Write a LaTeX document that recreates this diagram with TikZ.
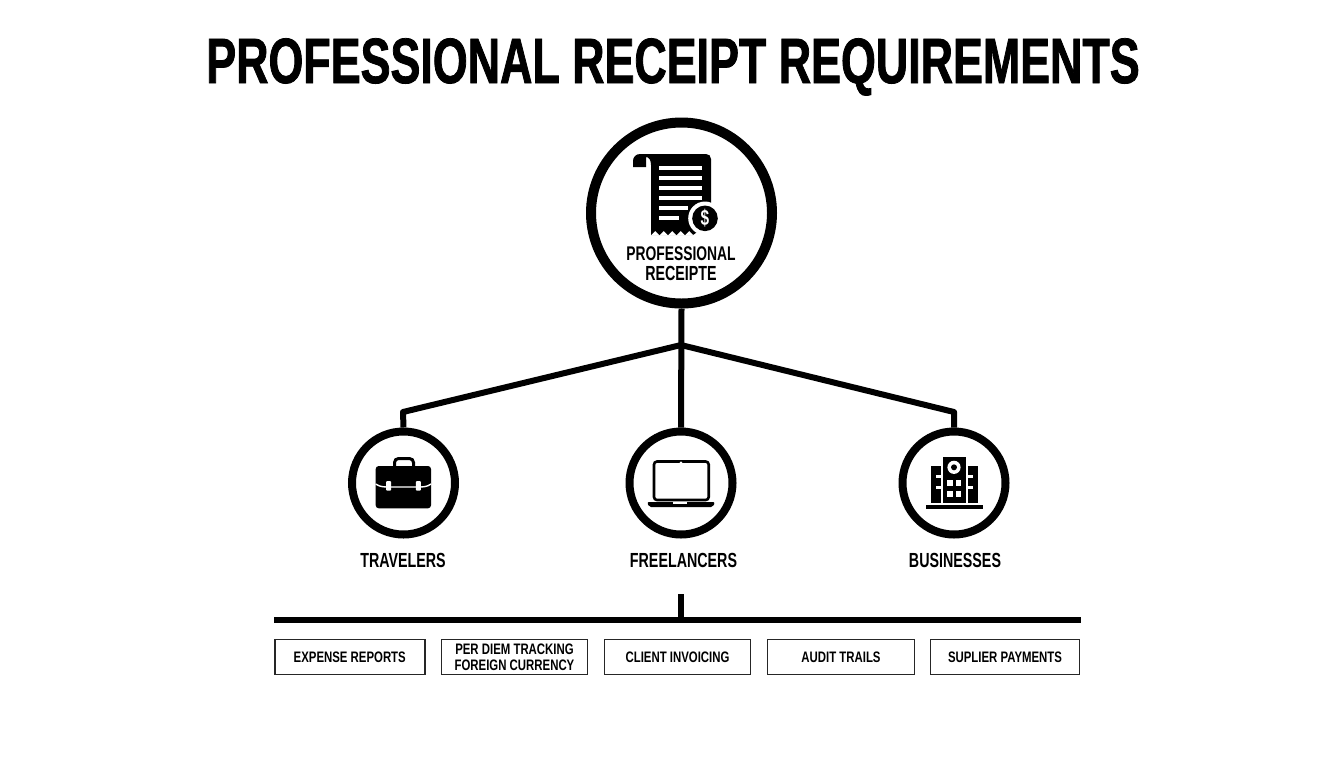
\documentclass[tikz,border=0pt]{standalone}
\usepackage{fontspec}
\setmainfont{Liberation Sans}[FakeStretch=0.70]
\newfontfamily\titlefont{Liberation Sans}[FakeStretch=0.70,FakeBold=1.2]
\newfontfamily\tagfont{Liberation Sans}[FakeStretch=0.75]
\begin{document}
\begin{tikzpicture}[x=0.5pt,y=-0.5pt]
    \tikzstyle{hubring}=[circle,draw=black,fill=white,line width=5pt,minimum size=90.5pt,inner sep=0pt]
    \tikzstyle{ring}=[circle,draw=black,fill=white,line width=4pt,minimum size=51.5pt,inner sep=0pt]
    \tikzstyle{wire}=[draw=black,line width=3pt]
    \tikzstyle{tag}=[draw=black!85,line width=0.8pt,fill=white,inner sep=0pt,minimum height=17.5pt,align=center,font=\tagfont\bfseries\fontsize{7.6}{7.9}\selectfont]
    \tikzstyle{label}=[inner sep=0pt,align=center,font=\bfseries\fontsize{10.2}{10}\selectfont]
    \useasboundingbox (0,0) rectangle (1344,768);
    \fill[white] (0,0) rectangle (1344,768);
    \node[anchor=base,inner sep=0pt] (title) at (673,83){\titlefont\bfseries\fontsize{32}{33}\selectfont PROFESSIONAL RECEIPT REQUIREMENTS};
    \coordinate (hub) at (681,345);
    \coordinate (elbow1) at (403,412);
    \coordinate (elbow3) at (954,412);
    \coordinate (barl) at (274,620);
    \coordinate (barr) at (1081,620);
    \coordinate (stubtop) at (681,594);
    \coordinate (stubfoot) at (681,620);
    \node[hubring] (main) at (681.5,213){};
    \node[ring] (travel) at (403.5,483){};
    \node[ring] (free) at (681,483){};
    \node[ring] (biz) at (954,483){};
    \draw[wire] (main.south) -- (free.north);
    \draw[wire,line join=round] (hub) -- (elbow1) -- (travel.north);
    \draw[wire,line join=round] (hub) -- (elbow3) -- (biz.north);
    \draw[wire] (barl) -- (barr);
    \draw[wire] (stubtop) -- (stubfoot);
    \fill[black] (633,167) -- (633,161) .. controls (633,157) and (636,154) .. (640,154) -- (706,154) .. controls (709,154) and (711,156) .. (711,159) -- (711,222) -- (693,235) -- (651,235) -- (651,165) .. controls (651,160) and (649,157) .. (646,157) -- (646,167) -- cycle;
    \foreach \i in {0,...,4}
      \fill[white] ({651+8.5*\i},235.5) -- ({655.25+8.5*\i},231) -- ({659.5+8.5*\i},235.5) -- cycle;
    \foreach \y/\e in {167.5/702,177.5/702,188/702,198/702,208/688,218/679}
      \fill[white] (659,\y-2) rectangle (\e,\y+2);
    \fill[white] (705,218.3) circle[radius=8.4pt];
    \fill[black] (705,218.3) circle[radius=6.4pt];
    \node[text=white,inner sep=0pt] (coin) at (705,218.3){\bfseries\fontsize{11}{11}\selectfont\$};
    \node[label] (mainlab) at (681,263.5){\fontsize{9.9}{10}\selectfont PROFESSIONAL\\[0.3pt]RECEIPTE};
    \fill[black,rounded corners=1.5pt] (375.7,466) rectangle (431,508.3);
    \draw[line width=1.5pt,rounded corners=2pt] (394.5,466) -- (394.5,458.5) -- (413.5,458.5) -- (413.5,466);
    \draw[white,line width=0.7pt] (375.7,484) .. controls (380,487) and (384,487) .. (390,487) -- (417,487) .. controls (423,487) and (427,487) .. (431,484);
    \fill[white,rounded corners=0.5pt] (386.2,481) rectangle (391.2,490.7);
    \fill[white,rounded corners=0.5pt] (415.8,481) rectangle (420.8,490.7);
    \draw[line width=1.3pt,rounded corners=1.5pt] (654,461.5) rectangle (708.7,500);
    \fill[white] (681,462.7) circle[radius=0.7pt];
    \fill[black,rounded corners=1pt] (647,502) -- (715,502) -- (713,507) -- (649,507) -- cycle;
    \fill[white] (673,502) rectangle (687,504);
    \fill[black] (943.3,457.3) rectangle (966,503.3);
    \fill[black] (931,466) rectangle (941,503.3);
    \fill[black] (968.3,466) rectangle (978.3,503.3);
    \fill[black] (926,505.3) rectangle (982.7,509.3);
    \fill[white] (954,467.3) circle[radius=3.3pt];
    \fill[black] (954,467.3) circle[radius=1.5pt];
    \foreach \x in {947.3,956}
      \foreach \y in {480,491}
        \fill[white] (\x,\y) rectangle (\x+5.3,\y+6);
    \foreach \y in {475,486}
      {\fill[white] (936,\y) rectangle (941,\y+3);
       \fill[white] (968.3,\y) rectangle (973.3,\y+3);}
    \node[label] (travellab) at (403,560){TRAVELERS};
    \node[label] (freelab) at (683.5,560){FREELANCERS};
    \node[label] (bizlab) at (955,560){BUSINESSES};
    \node[tag,minimum width=75pt] (t1) at (349.75,657){EXPENSE REPORTS};
    \node[tag,minimum width=73pt] (t2) at (514.5,657){PER DIEM TRACKING\\FOREIGN CURRENCY};
    \node[tag,minimum width=73pt] (t3) at (677.5,657){CLIENT INVOICING};
    \node[tag,minimum width=73.5pt] (t4) at (841,657){AUDIT TRAILS};
    \node[tag,minimum width=74.5pt] (t5) at (1005,657){SUPLIER PAYMENTS};
  \end{tikzpicture}
\end{document}
